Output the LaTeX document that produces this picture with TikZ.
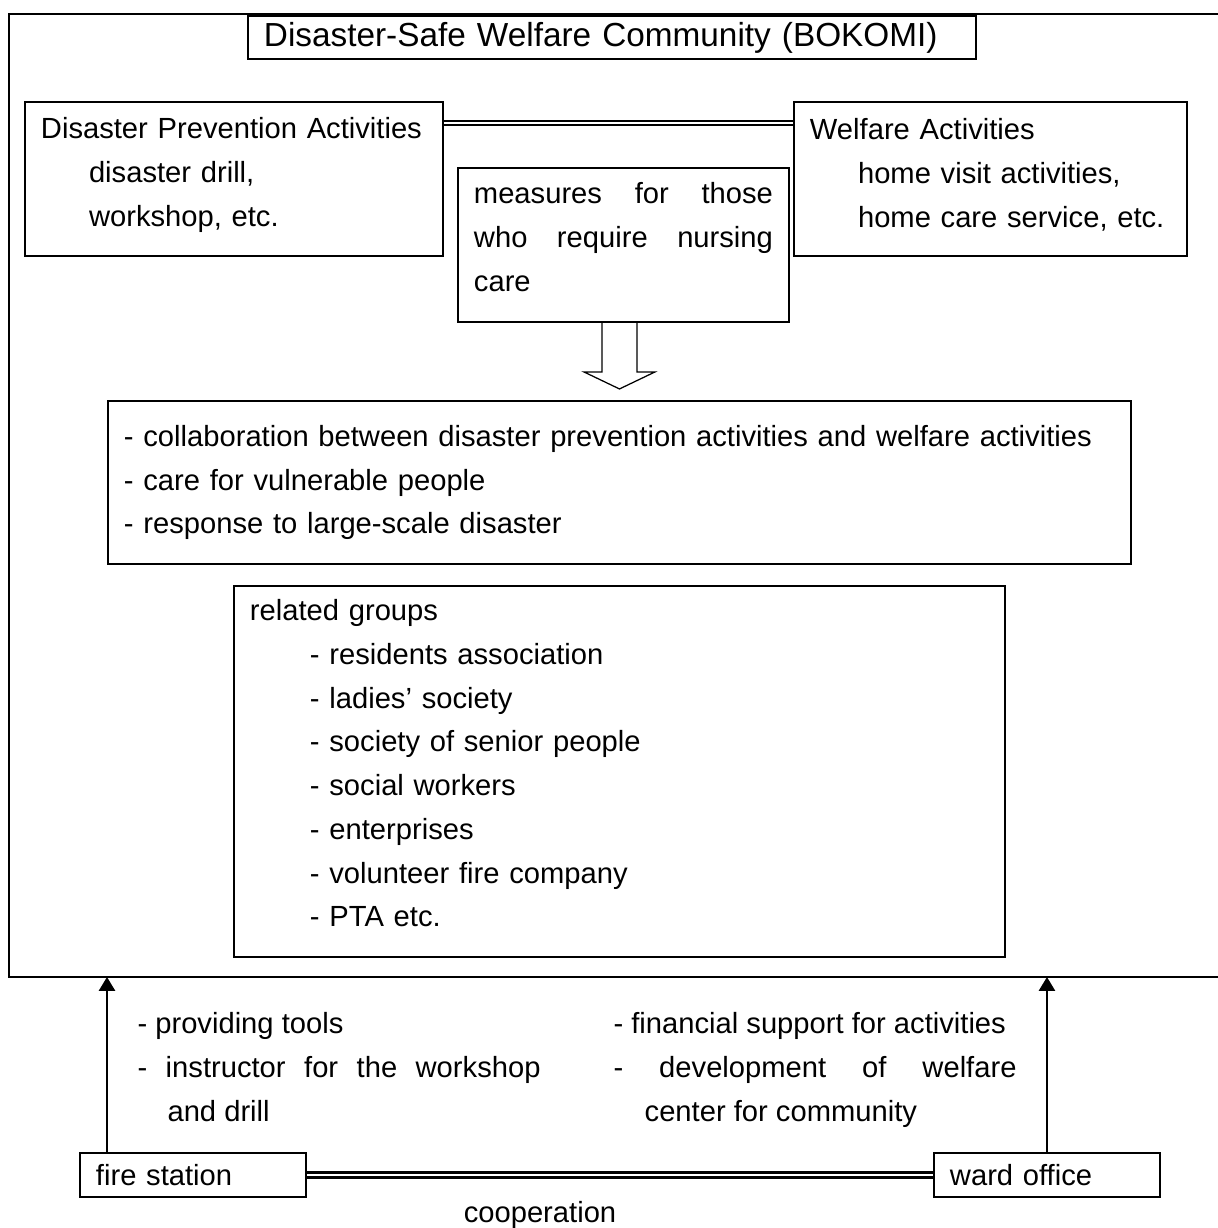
\documentclass[tikz,border=0pt]{standalone}
\usepackage{fontspec}
\setmainfont{Liberation Sans}
\usetikzlibrary{arrows.meta,calc}
\newcommand{\actindent}{\hspace*{17.3pt}}
\newcommand{\grpindent}{\hspace*{21.6pt}}
\begin{document}
\begin{tikzpicture}[x=0.36pt,y=-0.36pt,
  every node/.style={font=\fontsize{10.5}{15.75}\selectfont},
  box/.style={draw,line width=0.7pt,anchor=north west,inner xsep=5.76pt,inner ysep=0pt,align=left},
  note/.style={anchor=north west,inner sep=0pt,align=justify,text width=145.08pt},
  link/.style={double,line width=0.6pt,double distance=0.7pt},
  support/.style={line width=0.8pt,-{Triangle[length=5pt,width=5.8pt]}}]
  \useasboundingbox (0,0) rectangle (1218,1228);

  % BOKOMI frame, open to the right
  \draw[line width=0.7pt] (1218,14) -- (9,14) -- (9,977) coordinate(frame) -- (1218,977);

  \node(title)[box,text width=250.56pt,minimum height=15.48pt,font=\fontsize{12}{18}\selectfont] at (247,15) {Disaster-Safe Welfare Community (BOKOMI)};

  \node(dpa)[box,text width=138.96pt,minimum height=55.44pt] at (24,101) {Disaster Prevention Activities\\\actindent disaster drill,\\\actindent workshop, etc.\vspace{2.9pt}};
  \node(welf)[box,text width=129.96pt,minimum height=55.44pt] at (793,101) {Welfare Activities\\\actindent home visit activities,\\\actindent home care service, etc.\vspace{2.9pt}};
  \draw[link] ($(dpa.north east)+(0,22)$) coordinate(actlink) -- (actlink -| welf.west);

  \node(meas)[box,align=justify,text width=107.64pt,minimum height=55.44pt] at (457,167) {measures for those\linebreak who require nursing\linebreak care\vspace{5.8pt}};

  % hollow arrow down
  \coordinate(down) at ($(meas.south)+(-4,0)$);
  \draw[line width=0.45pt] ($(down)+(-17.5,0)$) -- ($(down)+(-17.5,49)$) -- ($(down)+(-35.5,49)$) -- ($(down)+(0,66)$) -- ($(down)+(35.5,49)$) -- ($(down)+(17.5,49)$) -- ($(down)+(17.5,0)$);

  \node(collab)[box,text width=356.76pt,minimum height=58.68pt] at (107,400) {- collaboration between disaster prevention activities and welfare activities\\- care for vulnerable people\\- response to large-scale disaster};

  \node(groups)[box,text width=266.04pt,minimum height=133.56pt] at (233,585) {related groups\\\grpindent- residents association\\\grpindent- ladies' society\\\grpindent- society of senior people\\\grpindent- social workers\\\grpindent- enterprises\\\grpindent- volunteer fire company\\\grpindent- PTA etc.\vspace{5.8pt}};

  \node(fire)[box,text width=69.84pt,minimum height=15.84pt] at (79,1152) {fire station};
  \node(ward)[box,text width=69.84pt,minimum height=15.84pt] at (933,1152) {ward office};
  \draw[link,line width=0.8pt,double distance=1pt] (fire.east) -- (ward.west);
  \node(coop) at (540,1215) {cooperation};

  \draw[support] ($(fire.north west)+(28,0)$) coordinate(fireup) -- (fireup |- frame);
  \draw[support] (ward.north) -- (ward.north |- frame);

  \node(tools)[note] at (137,1012) {- providing tools\\- instructor for the workshop\linebreak\hspace*{10.8pt}and drill};
  \node(money)[note] at (613,1012) {- financial support for activities\\- development of welfare\linebreak\hspace*{11.2pt}center for community};
\end{tikzpicture}
\end{document}
